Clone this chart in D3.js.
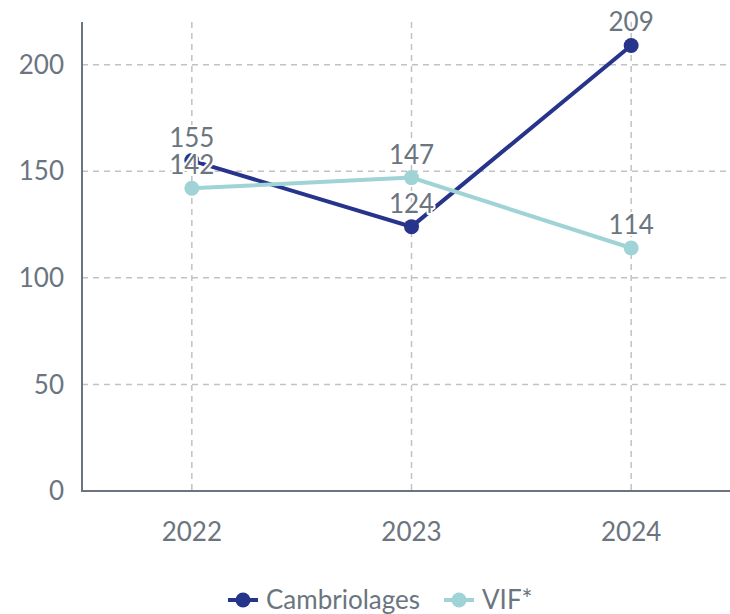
<!DOCTYPE html>
<meta charset="utf-8">
<style>
  body { margin: 0; background: #fff; }
  text { font-family: Lato, "Open Sans", sans-serif; fill: #6b7580; }
  .grid line { stroke: #c0c2c6; stroke-width: 1.5px; stroke-dasharray: 6 5; }
  .label { paint-order: stroke; stroke: #fff; stroke-width: 4px; stroke-linejoin: round; }
</style>
<body>
<script src="https://cdn.jsdelivr.net/npm/d3@7"></script>
<script>
  // data
  var years = ["2022", "2023", "2024"];
  var cambriolages = [155, 124, 209];
  var vif = [142, 147, 114];
  var yTicks = [0, 50, 100, 150, 200];

  var series = [
    { name: "Cambriolages", values: cambriolages, color: "#27348b" },
    { name: "VIF*", values: vif, color: "#9fd3d6" }
  ];

  var width = 730, height = 614;
  var plotLeft = 82, plotTop = 22, plotBottom = 491;
  var fontSize = "26px";

  var svg = d3.select("body").append("svg")
    .attr("width", width)
    .attr("height", height);

  var x = d3.scalePoint().domain(years).range([plotLeft, 741]).padding(0.5);
  var y = d3.scaleLinear().domain([0, 220]).range([plotBottom, plotTop]);

  // grid
  var grid = svg.append("g").attr("class", "grid");
  grid.selectAll(".h")
    .data(yTicks.filter(function(d) { return d > 0; }))
    .enter().append("line")
    .attr("x1", plotLeft).attr("x2", width)
    .attr("y1", function(d) { return y(d); })
    .attr("y2", function(d) { return y(d); });
  grid.selectAll(".v")
    .data(years)
    .enter().append("line")
    .attr("x1", function(d) { return x(d); })
    .attr("x2", function(d) { return x(d); })
    .attr("y1", plotTop).attr("y2", plotBottom);

  // axes
  svg.append("line")
    .attr("x1", plotLeft).attr("x2", plotLeft)
    .attr("y1", plotTop).attr("y2", plotBottom + 1)
    .attr("stroke", "#6b7580").attr("stroke-width", 2);
  svg.append("line")
    .attr("x1", plotLeft - 1).attr("x2", width)
    .attr("y1", plotBottom).attr("y2", plotBottom)
    .attr("stroke", "#6b7580").attr("stroke-width", 2);

  svg.selectAll(".ytick")
    .data(yTicks)
    .enter().append("text")
    .attr("x", 64)
    .attr("y", function(d) { return y(d); })
    .attr("dy", "0.35em")
    .attr("text-anchor", "end")
    .style("font-size", fontSize)
    .text(function(d) { return d; });

  svg.selectAll(".xtick")
    .data(years)
    .enter().append("text")
    .attr("x", function(d) { return x(d); })
    .attr("y", 532)
    .attr("dy", "0.35em")
    .attr("text-anchor", "middle")
    .style("font-size", fontSize)
    .text(function(d) { return d; });

  // lines and markers
  var line = d3.line()
    .x(function(d, i) { return x(years[i]); })
    .y(function(d) { return y(d); });

  series.forEach(function(s) {
    svg.append("path")
      .attr("d", line(s.values))
      .attr("fill", "none")
      .attr("stroke", s.color)
      .attr("stroke-width", 4);
    svg.selectAll(null)
      .data(s.values)
      .enter().append("circle")
      .attr("cx", function(d, i) { return x(years[i]); })
      .attr("cy", function(d) { return y(d); })
      .attr("r", 7.5)
      .attr("fill", s.color);
  });

  // value labels on top
  series.forEach(function(s) {
    svg.selectAll(null)
      .data(s.values)
      .enter().append("text")
      .attr("class", "label")
      .attr("x", function(d, i) { return x(years[i]); })
      .attr("y", function(d) { return y(d) - 14; })
      .attr("text-anchor", "middle")
      .style("font-size", fontSize)
      .text(function(d) { return d; });
  });

  // legend
  var legend = svg.append("g");
  var items = [
    { s: series[0], x: 228 },
    { s: series[1], x: 444 }
  ];
  items.forEach(function(it) {
    var g = legend.append("g").attr("transform", "translate(" + it.x + ",600)");
    g.append("line")
      .attr("x1", 0).attr("x2", 30)
      .attr("stroke", it.s.color).attr("stroke-width", 4);
    g.append("circle").attr("cx", 15).attr("r", 7.5).attr("fill", it.s.color);
    g.append("text")
      .attr("x", 38)
      .attr("dy", "0.35em")
      .style("font-size", fontSize)
      .text(it.s.name);
  });
</script>
</body>
